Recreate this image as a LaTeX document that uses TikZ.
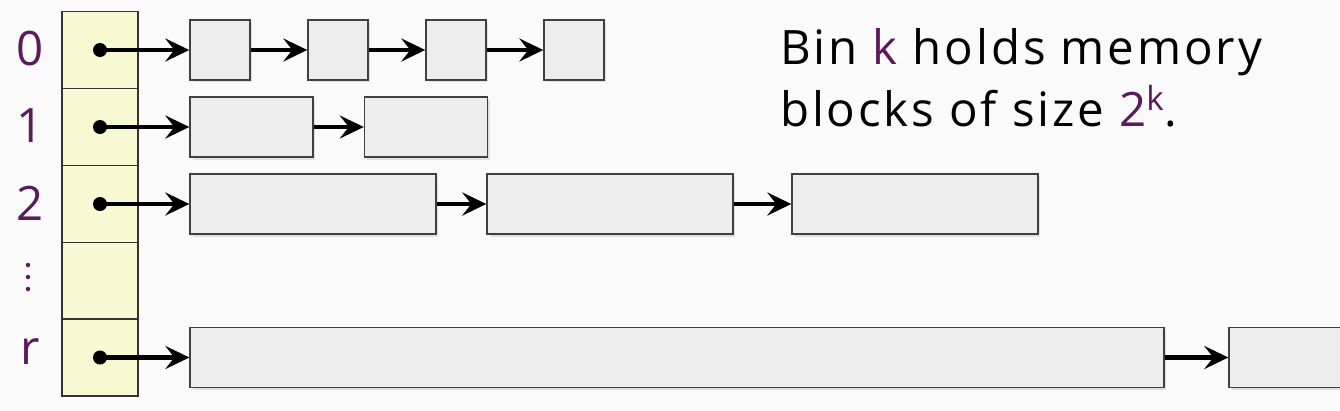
\documentclass[tikz,border=0pt]{standalone}
\usepackage{fontspec}
\setmainfont[LetterSpace=6]{Open Sans}
\usetikzlibrary{arrows.meta,positioning,shadows}
\definecolor{binfill}{HTML}{F8F8D2}
\definecolor{binpurple}{HTML}{5A1A5C}
\definecolor{blockfill}{HTML}{EDEDED}
\tikzset {
  >={Stealth[length=4.8mm,width=4.6mm,inset=1.8mm]},
  every node/.style={font=\fontsize{27}{35}\selectfont},
  bincell/.style={draw=black!80,fill=binfill,line width=0.8pt,
    minimum width=1.52cm,minimum height=1.54cm,inner sep=0pt},
  block/.style={draw=black!75,fill=blockfill,line width=0.8pt,
    minimum height=1.2cm,inner sep=0pt,
    drop shadow={opacity=0.2,shadow xshift=0.05cm,shadow yshift=-0.05cm}},
  ptr/.style={->,line width=2.6pt},
  binlabel/.style={text=binpurple},
}

\begin{document}
\begin{tikzpicture}[x=0.02cm,y=-0.02cm]
          \fill[black!2] (0,0) rectangle (1340,410);
          \useasboundingbox (0,0) rectangle (1340,410);
          \clip (0,0) rectangle (1340,410);
          % the bins
          \node[bincell] (cell0) at (100,50) {};
          \node[bincell] (cell1) at (100,127) {};
          \node[bincell] (cell2) at (100,204) {};
          \node[bincell] (cell3) at (100,281) {};
          \node[bincell] (cellr) at (100,357.5) {};
          \node[binlabel] (lab0) at (30,49) {0};
          \node[binlabel] (lab1) at (30,126) {1};
          \node[binlabel] (lab2) at (30,203) {2};
          \node[binlabel] (labr) at (30,352) {r};
          % vertical dots between 2 and r
          \fill[binpurple] (28,265) circle[radius=0.045cm];
          \fill[binpurple] (28,277) circle[radius=0.045cm];
          \fill[binpurple] (28,289) circle[radius=0.045cm];
          % bin 0
          \node[block,minimum width=1.2cm] (b00) at (220,50) {};
          \node[block,minimum width=1.2cm] (b01) at (338,50) {};
          \node[block,minimum width=1.2cm] (b02) at (456,50) {};
          \node[block,minimum width=1.2cm] (b03) at (574,50) {};
          % bin 1
          \node[block,minimum width=2.46cm] (b10) at (251.5,127) {};
          \node[block,minimum width=2.46cm] (b11) at (426,127) {};
          % bin 2
          \node[block,minimum width=4.92cm] (b20) at (313,204) {};
          \node[block,minimum width=4.92cm] (b21) at (610,204) {};
          \node[block,minimum width=4.92cm] (b22) at (915,204) {};
          % bin r
          \node[block,minimum width=19.48cm] (br0) at (677,357.5) {};
          \node[block,minimum width=4cm] (br1) at (1329,357.5) {};
          % pointers
          \draw[ptr] (cell0.center) -- (b00.west);
          \draw[ptr] (b00) -- (b01);
          \draw[ptr] (b01) -- (b02);
          \draw[ptr] (b02) -- (b03);
          \draw[ptr] (cell1.center) -- (b10.west);
          \draw[ptr] (b10) -- (b11);
          \draw[ptr] (cell2.center) -- (b20.west);
          \draw[ptr] (b20) -- (b21);
          \draw[ptr] (b21) -- (b22);
          \draw[ptr] (cellr.center) -- (br0.west);
          \draw[ptr] (br0) -- (br1);
          \fill (cell0.center) circle[radius=0.14cm];
          \fill (cell1.center) circle[radius=0.14cm];
          \fill (cell2.center) circle[radius=0.14cm];
          \fill (cellr.center) circle[radius=0.14cm];
          \node[align=left,anchor=west] (note) at (774,78)
            {Bin {\color{binpurple}k} holds memory\\
             blocks of size {\color{binpurple}2\textsuperscript{k}}.};
        \end{tikzpicture}
\end{document}
